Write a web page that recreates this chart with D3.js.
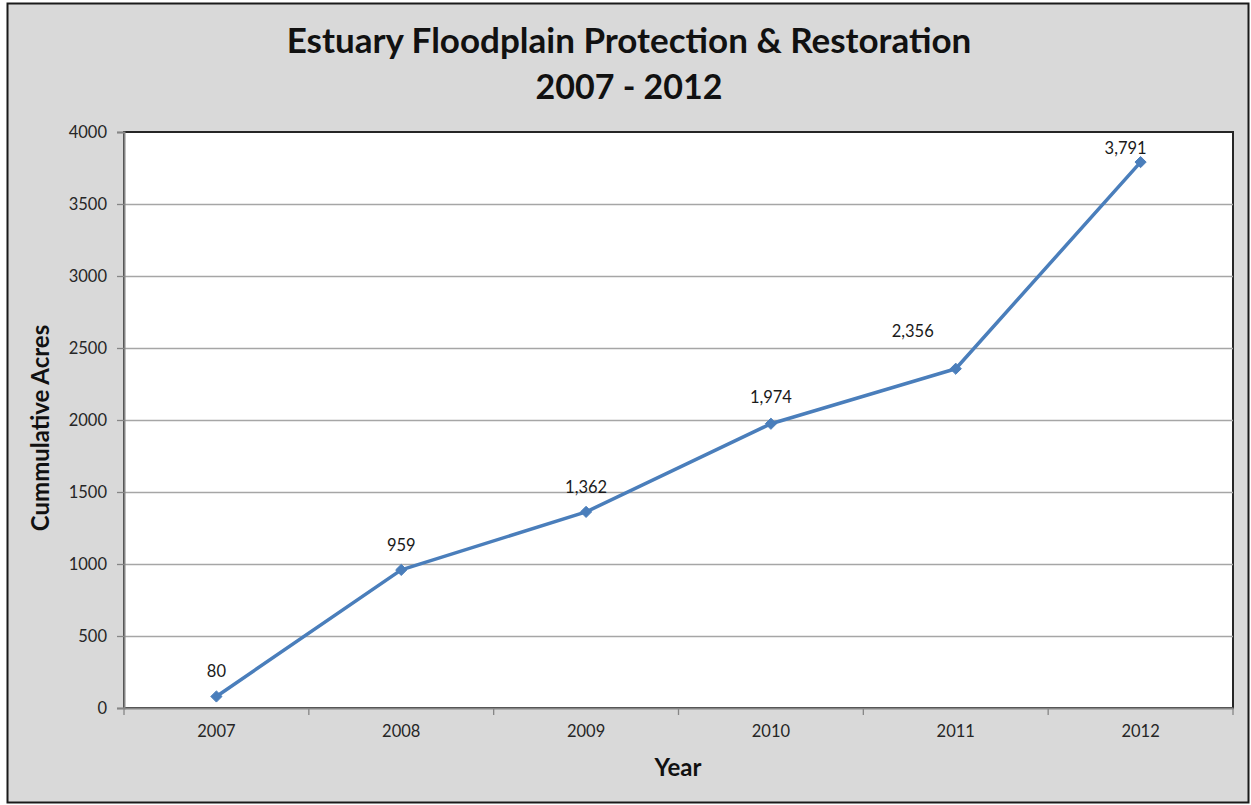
<!DOCTYPE html>
<html>
<head>
<meta charset="utf-8">
<script src="https://cdn.jsdelivr.net/npm/d3@7"></script>
<style>
  html, body { margin: 0; padding: 0; background: #ffffff; }
  svg { display: block; font-family: Lato, "Open Sans", sans-serif; }
</style>
</head>
<body>
<svg id="chart" width="1251" height="805"></svg>
<script>
// Cumulative acres protected / restored, by year
const years = ["2007", "2008", "2009", "2010", "2011", "2012"];
const acres = [80, 959, 1362, 1974, 2356, 3791];
const yTicks = [0, 500, 1000, 1500, 2000, 2500, 3000, 3500, 4000];
const labelNudge = [[0, 0], [0, 0], [0, 0], [0, -2], [-43, -13], [-15, 11]];

const W = 1251, H = 805;
const m = { left: 124, top: 132, right: 1233, bottom: 708 };

const svg = d3.select("#chart");

// chart frame
svg.append("rect")
  .attr("x", 0).attr("y", 0).attr("width", W).attr("height", H)
  .attr("fill", "#ffffff");
svg.append("rect")
  .attr("x", 7.5).attr("y", 3.5).attr("width", 1241).attr("height", 799)
  .attr("fill", "#d9d9d9").attr("stroke", "#1a1a1a").attr("stroke-width", 2);

const x = d3.scaleBand().domain(years).range([m.left, m.right]).padding(0);
const y = d3.scaleLinear().domain([0, 4000]).range([m.bottom, m.top]);

// plot area
svg.append("rect")
  .attr("x", m.left).attr("y", m.top)
  .attr("width", m.right - m.left).attr("height", m.bottom - m.top)
  .attr("fill", "#ffffff").attr("stroke", "#262626").attr("stroke-width", 2);

// horizontal gridlines
svg.append("g")
  .selectAll("line")
  .data(yTicks.filter(t => t > 0 && t < 4000))
  .join("line")
  .attr("x1", m.left).attr("x2", m.right)
  .attr("y1", d => Math.round(y(d)) + 0.5).attr("y2", d => Math.round(y(d)) + 0.5)
  .attr("stroke", "#a6a6a6").attr("stroke-width", 1.3);

// y axis
const yAxis = svg.append("g")
  .attr("transform", `translate(${m.left},0)`)
  .call(d3.axisLeft(y).tickValues(yTicks).tickSize(7).tickPadding(10).tickFormat(d3.format("d")));
yAxis.select(".domain").attr("stroke", "#868686").attr("stroke-width", 2);
yAxis.selectAll(".tick line").attr("stroke", "#868686").attr("stroke-width", 1.3);
yAxis.selectAll(".tick text")
  .attr("font-family", "Lato, sans-serif").attr("font-size", 16.5).attr("fill", "#262626");

// x axis, ticks on category boundaries
const xAxis = svg.append("g")
  .attr("transform", `translate(0,${m.bottom})`)
  .call(d3.axisBottom(x).tickSize(0).tickPadding(17));
xAxis.select(".domain").attr("stroke", "#868686").attr("stroke-width", 2);
xAxis.selectAll(".tick text")
  .attr("font-family", "Lato, sans-serif").attr("font-size", 16.5).attr("fill", "#262626");
xAxis.selectAll("line.bound")
  .data(years.map(d => x(d)).concat([m.right]))
  .join("line")
  .attr("class", "bound")
  .attr("x1", d => d).attr("x2", d => d)
  .attr("y1", 0).attr("y2", 7)
  .attr("stroke", "#868686").attr("stroke-width", 1.3);

// series line
const cx = (d, i) => x(years[i]) + x.bandwidth() / 2;
const line = d3.line().x((d, i) => cx(d, i)).y(d => y(d));
svg.append("path")
  .datum(acres)
  .attr("d", line)
  .attr("fill", "none")
  .attr("stroke", "#4a7ebb")
  .attr("stroke-width", 3.5)
  .attr("stroke-linejoin", "round");

// diamond markers
svg.append("g")
  .selectAll("path")
  .data(acres)
  .join("path")
  .attr("transform", (d, i) => `translate(${cx(d, i)},${y(d)})`)
  .attr("d", d3.symbol().type(d3.symbolDiamond2).size(80))
  .attr("fill", "#4a7ebb")
  .attr("stroke", "#4a7ebb")
  .attr("stroke-width", 1);

// value labels
const fmt = d3.format(",");
svg.append("g")
  .selectAll("text")
  .data(acres)
  .join("text")
  .attr("x", (d, i) => cx(d, i) + labelNudge[i][0])
  .attr("y", (d, i) => y(d) - 19 + labelNudge[i][1])
  .attr("text-anchor", "middle")
  .attr("font-size", 16.5)
  .attr("fill", "#1a1a1a")
  .text(d => fmt(d));

// titles
svg.append("text")
  .attr("x", 629).attr("y", 53)
  .attr("text-anchor", "middle")
  .attr("font-size", 35).attr("font-weight", "bold").attr("fill", "#111111")
  .text("Estuary Floodplain Protection & Restoration");
svg.append("text")
  .attr("x", 629).attr("y", 99)
  .attr("text-anchor", "middle")
  .attr("font-size", 34).attr("font-weight", "bold").attr("fill", "#111111")
  .text("2007 - 2012");

svg.append("text")
  .attr("x", 678).attr("y", 776)
  .attr("text-anchor", "middle")
  .attr("font-size", 24).attr("font-weight", "bold").attr("fill", "#111111")
  .text("Year");

svg.append("text")
  .attr("transform", "translate(49,428) rotate(-90)")
  .attr("text-anchor", "middle")
  .attr("font-size", 24).attr("font-weight", "bold").attr("fill", "#111111")
  .text("Cummulative Acres");
</script>
</body>
</html>
